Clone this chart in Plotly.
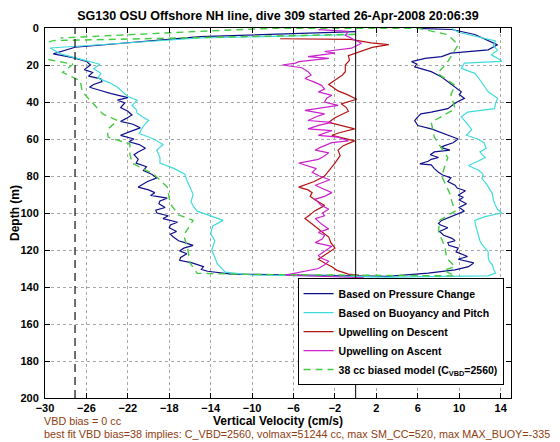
import plotly.graph_objects as go

TITLE = "SG130 OSU Offshore NH line, dive 309 started 26-Apr-2008 20:06:39"
X_TICKS = [-30, -26, -22, -18, -14, -10, -6, -2, 2, 6, 10, 14]
Y_TICKS = [0, 20, 40, 60, 80, 100, 120, 140, 160, 180, 200]
VBD_REF = -27.1   # dashed reference velocity
ZERO_REF = 0.0

# ---- Based on Pressure Change (descent, then ascent) ----
pc_desc_depth = [2.0, 4.7, 10.4, 14.0, 16.0, 18.0, 20.0, 22.5, 24.0, 26.0, 27.5, 29.0, 30.5, 32.0, 33.5, 35.5,
                 37.6, 39.0, 40.5, 43.0, 45.0, 47.0, 49.0, 50.5, 52.0, 54.0, 56.0, 58.0, 60.0, 61.5, 63.0, 65.0,
                 67.0, 68.5, 71.0, 73.0, 75.0, 77.0, 79.0, 81.0, 83.0, 84.5, 86.0, 87.5, 89.0, 90.5, 92.0, 93.5,
                 95.0, 97.0, 98.5, 100.0, 101.5, 103.0, 105.0, 106.5, 108.0, 110.0, 111.5, 113.0, 115.0, 116.0,
                 117.5, 119.0, 120.5, 122.0, 124.0, 125.6, 127.0, 129.0, 130.5, 131.5, 133.0]
pc_desc_vel = [0.0, -15.0, -27.1, -29.2, -27.3, -26.0, -25.6, -26.2, -25.4, -25.8, -24.6, -24.5, -25.3, -25.7,
               -24.8, -23.6, -22.0, -23.0, -22.3, -22.7, -22.0, -21.6, -22.2, -22.7, -21.5, -20.8, -21.8, -22.7,
               -21.4, -21.9, -20.9, -20.3, -21.0, -21.4, -21.0, -21.2, -20.2, -20.5, -19.7, -19.2, -20.1, -20.6,
               -21.0, -20.0, -19.4, -19.8, -18.2, -18.9, -19.0, -18.4, -19.3, -19.2, -18.1, -18.6, -17.2, -17.9,
               -18.0, -17.3, -17.9, -17.6, -17.1, -16.5, -15.7, -16.6, -17.0, -16.3, -16.9, -17.0, -15.8, -14.7,
               -14.9, -14.3, -12.0]
pc_asc_depth = [134.3, 132.5, 130.7, 129.0, 127.0, 125.0, 123.5, 122.7, 121.0, 119.0, 117.5, 116.0, 115.0, 113.7,
                112.0, 110.0, 108.0, 106.5, 105.6, 104.0, 102.5, 101.0, 99.0, 97.0, 95.0, 93.0, 91.5, 90.4, 88.0,
                86.5, 85.0, 83.0, 81.0, 79.5, 78.0, 76.0, 74.0, 73.4, 72.0, 71.0, 70.0, 68.5, 67.0, 66.0, 64.5,
                63.6, 62.0, 60.0, 58.0, 56.0, 54.5, 52.7, 50.0, 48.0, 46.4, 45.5, 43.6, 41.5, 40.0, 38.0, 36.0,
                34.5, 32.0, 29.0, 26.5, 23.6, 21.0, 19.5, 18.2, 16.4, 15.5, 13.6, 11.8, 9.1, 6.0, 3.5, 0.8, 0.2]
pc_asc_vel = [3.1, 7.0, 9.6, 10.9, 11.4, 9.9, 10.8, 10.5, 9.7, 9.9, 9.0, 8.9, 9.6, 9.3, 8.5, 8.1, 8.9, 8.2, 8.0,
              8.3, 9.0, 9.6, 10.5, 10.0, 10.7, 10.0, 10.4, 9.9, 10.6, 9.8, 9.6, 8.9, 9.2, 8.4, 8.0, 7.6, 7.3, 6.2,
              7.0, 7.3, 8.0, 7.2, 7.6, 9.1, 8.2, 8.6, 9.4, 9.9, 8.9, 8.1, 7.3, 6.0, 5.7, 6.0, 6.3, 7.3, 8.9, 9.4,
              9.8, 10.5, 10.0, 10.2, 9.6, 8.9, 8.3, 7.3, 5.7, 5.9, 5.4, 6.7, 8.3, 9.2, 12.8, 13.7, 12.5, 11.5,
              9.3, 5.9]

# ---- Based on Buoyancy and Pitch ----
bp_desc_depth = [3.5, 5.4, 10.8, 14.0, 17.0, 19.6, 22.0, 24.5, 27.0, 29.5, 32.0, 35.0, 37.0, 39.0, 42.0, 44.0,
                 46.0, 48.0, 50.0, 53.0, 57.0, 60.0, 63.0, 66.0, 70.0, 73.0, 76.0, 79.0, 82.5, 86.0, 90.0, 94.0,
                 97.0, 99.0, 101.5, 104.0, 107.0, 111.0, 115.0, 120.0, 124.0, 127.0, 129.0, 132.0, 133.5]
bp_desc_vel = [0.0, -15.0, -29.5, -28.5, -26.5, -24.7, -25.3, -24.6, -24.9, -23.8, -23.0, -22.4, -22.0, -21.1,
               -21.6, -21.2, -21.1, -20.6, -20.0, -20.5, -20.9, -19.5, -18.6, -19.2, -18.9, -18.9, -17.5, -16.5,
               -16.3, -16.0, -15.7, -15.9, -15.6, -15.3, -14.0, -12.8, -13.8, -14.0, -13.6, -13.9, -13.6, -13.4,
               -13.1, -12.6, -10.0]
bp_asc_depth = [134.7, 134.0, 132.5, 130.0, 128.0, 126.0, 124.0, 121.0, 119.0, 117.0, 115.0, 113.0, 110.0, 107.0,
                104.0, 102.0, 100.0, 98.0, 96.0, 93.0, 89.5, 86.0, 84.0, 81.5, 79.0, 77.0, 74.3, 72.0, 70.0, 67.0,
                65.0, 62.0, 60.0, 58.0, 55.0, 52.0, 48.0, 45.5, 43.6, 41.0, 38.0, 34.5, 32.0, 29.0, 26.5, 24.5,
                21.8, 19.0, 18.0, 16.0, 14.5, 12.0, 9.5, 7.0, 5.0, 2.3, 0.3]
bp_asc_vel = [3.1, 12.8, 13.5, 13.3, 13.2, 12.9, 12.8, 12.8, 12.5, 12.2, 12.0, 11.9, 11.7, 11.6, 11.5, 12.5, 14.1,
              13.7, 13.5, 13.3, 13.2, 12.8, 12.6, 12.2, 12.3, 11.9, 10.9, 11.8, 12.5, 12.0, 12.6, 12.4, 11.8,
              10.7, 11.2, 10.8, 10.2, 10.8, 13.4, 13.5, 13.7, 12.8, 12.5, 12.1, 11.8, 11.5, 10.2, 10.5, 14.1,
              13.6, 13.1, 13.7, 13.3, 13.5, 11.9, 9.9, 9.3]

# ---- Upwelling on Descent ----
ud_depth = [5.8, 6.2, 8.0, 9.0, 10.5, 13.0, 15.0, 17.5, 20.0, 23.6, 25.5, 27.0, 30.5, 32.0, 34.0, 36.0, 38.5, 41.0,
            43.0, 45.0, 48.5, 51.0, 53.0, 54.5, 56.5, 58.0, 61.0, 63.6, 66.0, 69.0, 73.0, 76.0, 80.0, 83.0, 86.0,
            87.5, 89.0, 91.0, 93.0, 96.0, 99.0, 101.0, 103.0, 106.0, 108.0, 110.0, 113.0, 116.0, 119.0, 122.0,
            125.0, 127.0, 129.0, 131.0, 133.0, 133.6]
ud_vel = [-7.3, -0.5, 1.5, 3.2, 1.6, 0.3, -0.7, -0.6, -1.0, -1.0, -1.3, -1.7, -2.6, -2.2, -1.7, -0.8, 0.1, -1.4,
          -0.9, -0.7, -2.0, -2.6, -1.2, -0.1, -1.5, -2.3, -0.1, -1.2, -1.7, -1.5, -2.0, -2.4, -3.0, -4.0, -5.5,
          -4.6, -4.2, -4.4, -3.9, -3.0, -4.0, -4.4, -4.9, -4.2, -3.8, -3.3, -2.6, -2.4, -2.0, -2.8, -3.6, -3.0,
          -2.3, -1.8, -0.7, 0.3]

# ---- Upwelling on Ascent ----
ua_depth = [135.0, 133.6, 130.0, 128.0, 126.0, 124.5, 123.0, 120.5, 118.0, 116.0, 114.0, 112.0, 110.5, 108.6,
            106.0, 103.0, 101.5, 100.0, 98.0, 95.5, 92.5, 91.0, 89.0, 87.0, 85.0, 83.5, 82.0, 80.0, 78.0, 76.0,
            73.0, 71.0, 69.5, 67.5, 66.0, 64.5, 62.0, 61.0, 59.0, 58.0, 56.5, 55.5, 54.5, 52.5, 51.0, 50.0, 48.0,
            46.4, 44.5, 43.6, 41.8, 40.0, 38.0, 36.4, 34.5, 33.0, 31.0, 29.0, 27.3, 25.5, 23.6, 21.5, 20.0, 19.0,
            18.2, 16.4, 15.5, 13.6, 12.7, 10.9, 8.2, 4.0, 1.8, 0.9]
ua_vel = [0.8, -6.8, -3.6, -3.0, -2.6, -3.3, -3.6, -2.9, -2.3, -3.9, -3.2, -3.0, -3.6, -2.6, -3.3, -3.9, -3.0,
          -3.2, -2.6, -3.4, -3.9, -3.0, -2.3, -3.1, -3.9, -3.2, -2.5, -3.5, -4.2, -3.8, -5.5, -3.6, -3.1, -2.6,
          -3.9, -3.4, -2.3, -0.7, -1.7, -3.6, -2.9, -2.3, -4.6, -3.5, -2.3, -4.6, -3.8, -3.0, -4.9, -3.9, -1.7,
          -3.0, -2.8, -2.3, -3.6, -3.0, -3.3, -4.1, -4.9, -4.3, -4.6, -5.2, -7.1, -5.8, -5.5, -2.6, -4.6, -2.0,
          -3.0, -0.4, 0.56, -1.0, -0.7, -3.6]

# ---- 38 cc biased model ----
bm_desc_depth = [3.4, 5.0, 6.8, 9.0, 14.0, 17.0, 19.6, 24.0, 28.5, 34.5, 40.0, 46.6, 50.0, 55.0, 59.0, 62.7, 68.0,
                 73.0, 79.0, 86.0, 95.0, 101.0, 104.0, 112.0, 120.0, 127.0, 132.6, 133.2]
bm_desc_vel = [0.0, -15.0, -29.2, -30.5, -30.5, -29.7, -27.3, -28.3, -26.6, -26.4, -25.5, -24.4, -23.0, -24.0,
               -23.9, -21.8, -21.8, -21.6, -19.5, -18.2, -17.9, -17.1, -15.7, -16.6, -16.2, -16.0, -15.3, -10.0]
bm_asc_depth = [134.0, 131.0, 129.0, 124.5, 118.0, 110.0, 104.0, 99.0, 94.0, 89.5, 80.0, 70.0, 65.0, 59.0, 51.0,
                43.6, 36.0, 31.0, 24.5, 19.0, 9.1, 3.6, 0.1, 0.1, 1.8, 5.4]
bm_asc_vel = [9.6, 8.5, 9.6, 8.8, 8.6, 8.0, 8.1, 9.6, 9.3, 9.1, 8.3, 8.9, 8.3, 7.6, 7.3, 9.6, 9.2, 9.6, 7.9, 8.8,
              9.9, 8.9, 6.0, -8.0, -15.0, -28.5]

FONT = "Liberation Sans, Arial, Helvetica, sans-serif"
NOTE_COLOR = "#8f3d12"

# The page body adds an 8 px margin, so the figure is 8 px smaller than the window.
FIG_W, FIG_H = 552, 434

fig = go.Figure()
fig.add_trace(go.Scatter(x=pc_desc_vel + pc_asc_vel, y=pc_desc_depth + pc_asc_depth, mode="lines",
                         name="Based on Pressure Change", line=dict(color="#10108c", width=1.2)))
fig.add_trace(go.Scatter(x=bp_desc_vel + bp_asc_vel, y=bp_desc_depth + bp_asc_depth, mode="lines",
                         name="Based on Buoyancy and Pitch", line=dict(color="#40dcdc", width=1.2)))
fig.add_trace(go.Scatter(x=ud_vel, y=ud_depth, mode="lines",
                         name="Upwelling on Descent", line=dict(color="#b41414", width=1.2)))
fig.add_trace(go.Scatter(x=ua_vel, y=ua_depth, mode="lines",
                         name="Upwelling on Ascent", line=dict(color="#cc22cc", width=1.2)))
fig.add_trace(go.Scatter(x=bm_desc_vel + bm_asc_vel, y=bm_desc_depth + bm_asc_depth, mode="lines",
                         name="38 cc biased model (C<sub>VBD</sub>=2560)",
                         line=dict(color="#44cc44", width=1.4, dash="7px,5px")))

fig.add_shape(type="line", xref="x", yref="paper", x0=ZERO_REF, x1=ZERO_REF, y0=0, y1=1,
              line=dict(color="black", width=1))
fig.add_shape(type="line", xref="x", yref="paper", x0=VBD_REF, x1=VBD_REF, y0=0, y1=1,
              line=dict(color="#222222", width=1.3, dash="8px,5px"))

axis_common = dict(showgrid=True, gridcolor="#a8a8a8", griddash="dot", gridwidth=1,
                   showline=True, linecolor="black", linewidth=1, mirror="ticks",
                   ticks="inside", ticklen=5, tickcolor="black", zeroline=False, automargin=False,
                   tickfont=dict(family=FONT, size=11, color="black", weight="bold"))

fig.update_layout(
    width=FIG_W, height=FIG_H,
    margin=dict(l=37, r=49, t=20, b=44),
    plot_bgcolor="white", paper_bgcolor="white",
    font=dict(family=FONT, size=11, color="black"),
    title=dict(text=TITLE, x=0.5, xref="paper", xanchor="center",
               y=1 - 7.5 / FIG_H, yref="container", yanchor="middle",
               font=dict(family=FONT, size=12.5, color="black", weight="bold")),
    xaxis=dict(range=[-30, 15], tickvals=X_TICKS,
               title=dict(text="Vertical Velocity (cm/s)", standoff=2,
                          font=dict(family=FONT, size=12, color="black", weight="bold")),
               **axis_common),
    yaxis=dict(range=[200, 0], tickvals=Y_TICKS, ticklabelstandoff=3,
               title=dict(text="Depth (m)", standoff=1,
                          font=dict(family=FONT, size=12, color="black", weight="bold")),
               **axis_common),
    legend=dict(x=0.984, xanchor="right", y=0.035, yanchor="bottom", bgcolor="white",
                bordercolor="black", borderwidth=1, itemwidth=30,
                font=dict(family=FONT, size=10.5, color="black", weight="bold")),
    showlegend=True,
)

fig.add_annotation(text="VBD bias = 0 cc", xref="paper", yref="paper", x=-0.0064, y=-(413 - 390) / 370,
                   xanchor="left", yanchor="middle", showarrow=False,
                   font=dict(family=FONT, size=10.8, color=NOTE_COLOR))
fig.add_annotation(text="best fit VBD bias=38 implies: C_VBD=2560, volmax=51244 cc, max SM_CC=520, max MAX_BUOY=-335",
                   xref="paper", yref="paper", x=-0.0064, y=-(426 - 390) / 370,
                   xanchor="left", yanchor="middle", showarrow=False,
                   font=dict(family=FONT, size=10.8, color=NOTE_COLOR))

fig.write_html("out.html")
